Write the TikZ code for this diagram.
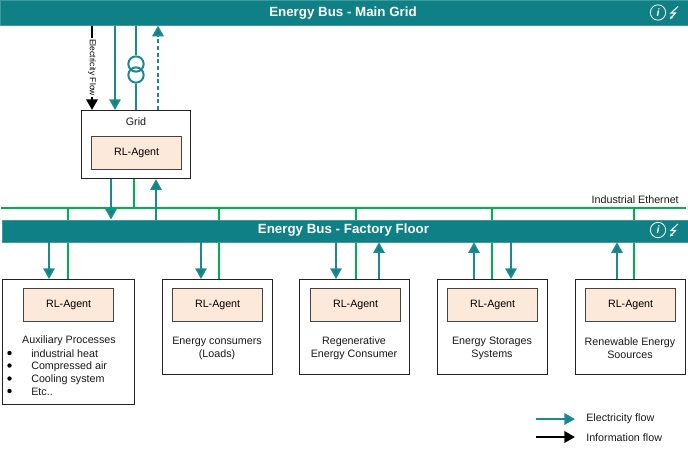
\documentclass[tikz,border=0pt]{standalone}
\usepackage{fontspec}
\setmainfont{Liberation Sans}
\usetikzlibrary{arrows.meta}
\definecolor{busteal}{HTML}{0F8085}
\definecolor{busedge}{HTML}{3F9A9E}
\definecolor{flowteal}{HTML}{1A8A90}
\definecolor{netgreen}{HTML}{00B050}
\definecolor{agentfill}{HTML}{FCE9DA}
\definecolor{boxedge}{HTML}{222222}
\tikzset{
  x=0.75pt,y=-0.75pt,
  txt/.style={font=\fontsize{8.05pt}{9.6pt}\selectfont,inner sep=0pt,align=center,text=black!90},
  bustext/.style={text=white,font=\bfseries\fontsize{10pt}{12pt}\selectfont,inner sep=0pt},
  bus/.style={fill=busteal,draw=busedge,line width=0.6pt,inner sep=0pt,anchor=north west},
  sys/.style={draw=boxedge,fill=white,line width=0.9pt,inner sep=0pt,anchor=north west},
  agent/.style={draw=boxedge!85,fill=agentfill,line width=0.9pt,inner sep=0pt,anchor=north west,minimum width=67.5pt,minimum height=24.4pt,font=\fontsize{8pt}{9.6pt}\selectfont},
  eflow/.style={draw=flowteal,line width=1.5pt,-{Triangle[length=8pt,width=8.5pt,fill=busteal]}},
  iflow/.style={draw=black,line width=1.7pt,-{Triangle[length=8pt,width=8.5pt]}},
  eline/.style={draw=flowteal,line width=1.5pt},
  net/.style={draw=netgreen,line width=1.3pt},
  iconline/.style={draw=white,line width=0.6pt},
}
\begin{document}
\begin{tikzpicture}
\useasboundingbox (0,0) rectangle (688,450);
% network line and branches are drawn beneath the buses
\coordinate (netL) at (1,208);
\coordinate (netR) at (686,208);
\coordinate (tapA) at (68,208);
\coordinate (tapB) at (219,208);
\coordinate (tapC) at (356,208);
\coordinate (tapD) at (492,208);
\coordinate (tapE) at (634,208);
\coordinate (tapG) at (134,208);

% boxes
\node[bus,minimum width=516pt,minimum height=18.6pt] (main) at (0,0) {};
\node[bustext] (mainlabel) at (343,13.5) {Energy Bus - Main Grid};
\node[sys,minimum width=81.75pt,minimum height=51pt] (grid) at (81,110) {};
\node[txt] (gridlabel) at (136,122) {Grid};
\node[agent] (agentG) at (91,136) {RL-Agent};

\node[sys,minimum width=99pt,minimum height=93.75pt] (boxA) at (2,279) {};
\node[sys,minimum width=82.5pt,minimum height=71.25pt] (boxB) at (162,279) {};
\node[sys,minimum width=82.5pt,minimum height=71.25pt] (boxC) at (299,279) {};
\node[sys,minimum width=82.5pt,minimum height=71.25pt] (boxD) at (437,279) {};
\node[sys,minimum width=82.5pt,minimum height=71.25pt] (boxE) at (575,279) {};

\draw[net] (netL) -- (netR);
\draw[net] (tapG) -- (grid.south -| tapG);
\draw[net] (tapA) -- (boxA.north -| tapA);
\draw[net] (tapB) -- (boxB.north -| tapB);
\draw[net] (tapC) -- (boxC.north -| tapC);
\draw[net] (tapD) -- (boxD.north -| tapD);
\draw[net] (tapE) -- (boxE.north -| tapE);

\node[bus,minimum width=514.5pt,minimum height=16.5pt] (floor) at (2,219.5) {};
\node[bustext] (floorlabel) at (343.5,230.5) {Energy Bus - Factory Floor};

\node[agent] (agentA) at (23,288) {RL-Agent};
\node[agent] (agentB) at (172,288) {RL-Agent};
\node[agent] (agentC) at (310,288) {RL-Agent};
\node[agent] (agentD) at (447,288) {RL-Agent};
\node[agent] (agentE) at (585,288) {RL-Agent};

% box texts
\node[txt] (auxt) at (69,341) {Auxiliary Processes};
\node[txt,anchor=west] (aux1) at (31,354) {industrial heat};
\node[txt,anchor=west] (aux2) at (31,366.5) {Compressed air};
\node[txt,anchor=west] (aux3) at (31,379.5) {Cooling system};
\node[txt,anchor=west] (aux4) at (31,392) {Etc..};
\foreach \n in {1,2,3,4} \fill (9.5,0 |- aux\n.west) ++(0,-1) circle[radius=2.2];
\node[txt] (textB) at (217,348.5) {Energy consumers\\(Loads)};
\node[txt] (textC) at (354,348.5) {Regenerative\\Energy Consumer};
\node[txt] (textD) at (492,348.5) {Energy Storages\\Systems};
\node[txt] (textE) at (630,348.5) {Renewable Energy\\Soources};
\node[txt,anchor=east] (ethernet) at (679,200) {Industrial Ethernet};

% upper connectors
\draw[iflow] (92,0 |- main.south) -- (92,0 |- grid.north);
\node[fill=white,inner sep=0.6pt,rotate=-90,font=\fontsize{6.4pt}{7pt}\selectfont] (infolabel) at (92,67.5) {Electricity Flow};
\draw[eflow] (115,0 |- main.south) -- (115,0 |- grid.north);
\node[circle,draw=flowteal,line width=1.5pt,minimum size=11.5pt,inner sep=0pt] (trA) at (136,64) {};
\node[circle,draw=flowteal,line width=1.5pt,minimum size=11.5pt,inner sep=0pt] (trB) at (136,75) {};
\draw[eline] (136,0 |- main.south) -- (trA.north);
\draw[eline] (trB.south) -- (136,0 |- grid.north);
\draw[eflow,densely dashed] (158,0 |- grid.north) -- (158,0 |- main.south);

% grid to floor
\draw[eflow] (111,0 |- grid.south) -- (111,0 |- floor.north);
\draw[eflow] (156,0 |- floor.north) -- (156,0 |- grid.south);

% floor to systems
\draw[eflow] (49,0 |- floor.south) -- (49,0 |- boxA.north);
\draw[eflow] (201,0 |- floor.south) -- (201,0 |- boxB.north);
\draw[eflow] (336,0 |- floor.south) -- (336,0 |- boxC.north);
\draw[eflow] (379,0 |- boxC.north) -- (379,0 |- floor.south);
\draw[eflow] (474,0 |- boxD.north) -- (474,0 |- floor.south);
\draw[eflow] (511,0 |- floor.south) -- (511,0 |- boxD.north);
\draw[eflow] (617,0 |- boxE.north) -- (617,0 |- floor.south);

% icons
\foreach \yy/\nm in {12.5/a,230/b}{
  \node[circle,iconline,minimum size=11.5pt,inner sep=0pt,text=white,font=\bfseries\itshape\fontsize{8pt}{8pt}\selectfont] (icon\nm) at (658,\yy) {i};
  \draw[iconline,line width=0.8pt,-{Stealth[length=2.5pt,width=2.5pt]}] (678,\yy-6) -- (671,\yy+0.5) -- (675.5,\yy+0.5) -- (670,\yy+6.5);
}

% legend
\coordinate (legA) at (536,419);
\coordinate (legB) at (536,437);
\node[txt,anchor=west] (legTa) at (586,419) {Electricity flow};
\node[txt,anchor=west] (legTb) at (586,438) {Information flow};
\draw[eflow,line width=1.9pt] (legA) -- (575,0 |- legA);
\draw[iflow,line width=1.9pt] (legB) -- (575,0 |- legB);
\end{tikzpicture}
\end{document}
